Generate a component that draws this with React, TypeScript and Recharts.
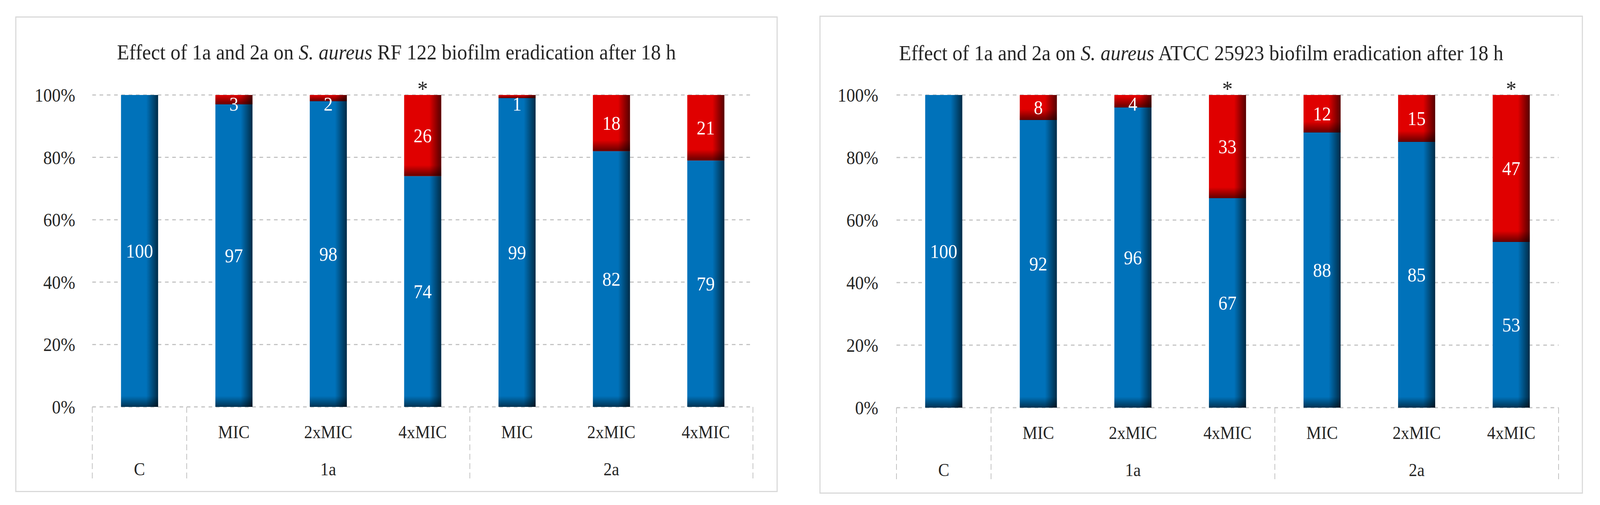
import { Bar, BarChart, CartesianGrid, LabelList, XAxis, YAxis } from "recharts";

const categories = ["C", "1a MIC", "1a 2xMIC", "1a 4xMIC", "2a MIC", "2a 2xMIC", "2a 4xMIC"];
const doseLabels = ["", "MIC", "2xMIC", "4xMIC", "MIC", "2xMIC", "4xMIC"];
const groupLabels = ["C", "1a", "1a", "1a", "2a", "2a", "2a"];
const yTicks = [0, 20, 40, 60, 80, 100];

// S. aureus RF 122
const rf122Remaining = [100, 97, 98, 74, 99, 82, 79];
const rf122Eradicated = [0, 3, 2, 26, 1, 18, 21];
const rf122Significant = [false, false, false, true, false, false, false];

// S. aureus ATCC 25923
const atccRemaining = [100, 92, 96, 67, 88, 85, 53];
const atccEradicated = [0, 8, 4, 33, 12, 15, 47];
const atccSignificant = [false, false, false, true, false, false, true];

const FONT = "'Liberation Serif', 'Times New Roman', serif";
const TEXT = "#262626";
const BLUE = "#0072BA";
const RED = "#E00000";

// the page is laid out for 4403x1292; squeeze it if the window is smaller
const PAGE_W = 4403;
const PAGE_H = 1292;

type Row = {
  cat: string;
  remaining: number;
  eradicated: number;
  sig: number;
};

function buildRows(remaining: number[], eradicated: number[], sig: boolean[]): Row[] {
  return categories.map((cat, i) => ({
    cat,
    remaining: remaining[i],
    eradicated: eradicated[i],
    sig: sig[i] ? 1 : 0,
  }));
}

function groupRange(i: number) {
  let start = i;
  let end = i;
  while (start > 0 && groupLabels[start - 1] === groupLabels[i]) start--;
  while (end < groupLabels.length - 1 && groupLabels[end + 1] === groupLabels[i]) end++;
  return { start, end };
}

function CategoryTick(props: any) {
  const { x, y, payload, band } = props;
  const i = categories.indexOf(payload.value);
  if (i < 0) return null;
  const { start, end } = groupRange(i);
  const left = x - band / 2;
  const right = x + band / 2;
  const lineLen = 191;
  const dash = { stroke: "#BFBFBF", strokeWidth: 2, strokeDasharray: "15 9" };
  return (
    <g>
      {i === start && <line x1={left} x2={left} y1={y} y2={y + lineLen} {...dash} />}
      {i === categories.length - 1 && <line x1={right} x2={right} y1={y} y2={y + lineLen} {...dash} />}
      {doseLabels[i] && (
        <text x={x} y={y + 64} dy="0.35em" textAnchor="middle" fontFamily={FONT} fontSize={46} fill={TEXT}>
          {doseLabels[i]}
        </text>
      )}
      {i === start && (
        <text
          x={x + ((start + end) / 2 - i) * band}
          y={y + 159}
          dy="0.35em"
          textAnchor="middle"
          fontFamily={FONT}
          fontSize={46}
          fill={TEXT}
        >
          {groupLabels[i]}
        </text>
      )}
    </g>
  );
}

function ShadedBar(props: any) {
  const { x, y, width, height, fill, prefix } = props;
  if (!height || height <= 0) return null;
  const shadeH = Math.min(height, 28);
  return (
    <g>
      <rect x={x} y={y} width={width} height={height} fill={fill} />
      <rect x={x} y={y} width={width} height={height} fill={`url(#${prefix}-right)`} />
      <rect x={x} y={y + height - shadeH} width={width} height={shadeH} fill={`url(#${prefix}-bottom)`} />
    </g>
  );
}

type PanelProps = {
  id: string;
  strain: string;
  rows: Row[];
  left: number;
  top: number;
  width: number;
  height: number;
  margin: { top: number; right: number; bottom: number; left: number };
  tickGap: number;
  titleY: number;
};

function Panel({ id, strain, rows, left, top, width, height, margin, tickGap, titleY }: PanelProps) {
  const yAxisWidth = 120;
  const xAxisHeight = 195;
  const innerW = width - 6;
  const innerH = height - 6;
  const plotW = innerW - margin.left - margin.right;
  const band = plotW / categories.length;

  return (
    <div
      style={{
        position: "absolute",
        left,
        top,
        width,
        height,
        boxSizing: "border-box",
        border: "3px solid #D9D9D9",
        background: "#fff",
      }}
    >
      <BarChart
        width={innerW}
        height={innerH}
        data={rows}
        barSize={102}
        margin={{
          top: margin.top,
          right: margin.right,
          bottom: margin.bottom - xAxisHeight,
          left: margin.left - yAxisWidth,
        }}
      >
        <defs>
          <linearGradient id={`${id}-right`} x1="0" y1="0" x2="1" y2="0">
            <stop offset="0" stopColor="#000" stopOpacity={0} />
            <stop offset="0.68" stopColor="#000" stopOpacity={0} />
            <stop offset="1" stopColor="#000" stopOpacity={0.62} />
          </linearGradient>
          <linearGradient id={`${id}-bottom`} x1="0" y1="0" x2="0" y2="1">
            <stop offset="0" stopColor="#000" stopOpacity={0} />
            <stop offset="1" stopColor="#000" stopOpacity={0.55} />
          </linearGradient>
        </defs>
        <text x={innerW / 2} y={titleY} textAnchor="middle" fontFamily={FONT} fontSize={55} fill={TEXT}>
          Effect of 1a and 2a on <tspan fontStyle="italic">S. aureus</tspan> {strain} biofilm eradication after 18 h
        </text>
        <CartesianGrid vertical={false} stroke="#C4C4C4" strokeWidth={3} strokeDasharray="10 10" />
        <XAxis
          dataKey="cat"
          interval={0}
          height={xAxisHeight}
          axisLine={false}
          tickLine={false}
          tickSize={0}
          tickMargin={0}
          tick={(p: any) => <CategoryTick {...p} band={band} />}
        />
        <YAxis
          domain={[0, 100]}
          ticks={yTicks}
          width={yAxisWidth}
          axisLine={false}
          tickLine={false}
          tickSize={0}
          tickMargin={tickGap}
          tickFormatter={(v: number) => `${v}%`}
          tick={{ fontFamily: FONT, fontSize: 48, fill: TEXT }}
        />
        <Bar
          dataKey="remaining"
          stackId="s"
          fill={BLUE}
          isAnimationActive={false}
          shape={(p: any) => <ShadedBar {...p} prefix={id} />}
        >
          <LabelList
            dataKey="remaining"
            content={(p: any) =>
              p.value > 0 ? (
                <text
                  x={p.x + p.width / 2}
                  y={p.y + p.height / 2}
                  dy="0.35em"
                  textAnchor="middle"
                  fontFamily={FONT}
                  fontSize={50}
                  fill="#fff"
                >
                  {p.value}
                </text>
              ) : null
            }
          />
        </Bar>
        <Bar
          dataKey="eradicated"
          stackId="s"
          fill={RED}
          isAnimationActive={false}
          shape={(p: any) => <ShadedBar {...p} prefix={id} />}
        >
          <LabelList
            dataKey="eradicated"
            content={(p: any) =>
              p.value > 0 ? (
                <text
                  x={p.x + p.width / 2}
                  y={Math.max(p.y + p.height / 2, p.y + 23)}
                  dy="0.35em"
                  textAnchor="middle"
                  fontFamily={FONT}
                  fontSize={50}
                  fill="#fff"
                >
                  {p.value}
                </text>
              ) : null
            }
          />
          <LabelList
            dataKey="sig"
            content={(p: any) =>
              p.value ? (
                <text x={p.x + p.width / 2} y={p.y + 4} textAnchor="middle" fontFamily={FONT} fontSize={58} fill={TEXT}>
                  *
                </text>
              ) : null
            }
          />
        </Bar>
      </BarChart>
    </div>
  );
}

export default function App() {
  const sx = typeof window !== "undefined" ? Math.min(1, window.innerWidth / PAGE_W) : 1;
  const sy = typeof window !== "undefined" ? Math.min(1, window.innerHeight / PAGE_H) : 1;
  return (
    <div
      style={{
        position: "absolute",
        left: 0,
        top: 0,
        width: PAGE_W * sx,
        height: PAGE_H * sy,
        overflow: "hidden",
        background: "#fff",
      }}
    >
      <div
        style={{
          position: "absolute",
          left: 0,
          top: 0,
          width: PAGE_W,
          height: PAGE_H,
          transform: `scale(${sx}, ${sy})`,
          transformOrigin: "0 0",
        }}
      >
        <Panel
          id="rf"
          strain="RF 122"
          rows={buildRows(rf122Remaining, rf122Eradicated, rf122Significant)}
          left={42}
          top={42}
          width={2098}
          height={1217}
          margin={{ top: 198, right: 65, bottom: 215, left: 209 }}
          tickGap={47}
          titleY={107}
        />
        <Panel
          id="atcc"
          strain="ATCC 25923"
          rows={buildRows(atccRemaining, atccEradicated, atccSignificant)}
          left={2255}
          top={40}
          width={2101}
          height={1223}
          margin={{ top: 200, right: 64, bottom: 217, left: 209 }}
          tickGap={50}
          titleY={111}
        />
      </div>
    </div>
  );
}
